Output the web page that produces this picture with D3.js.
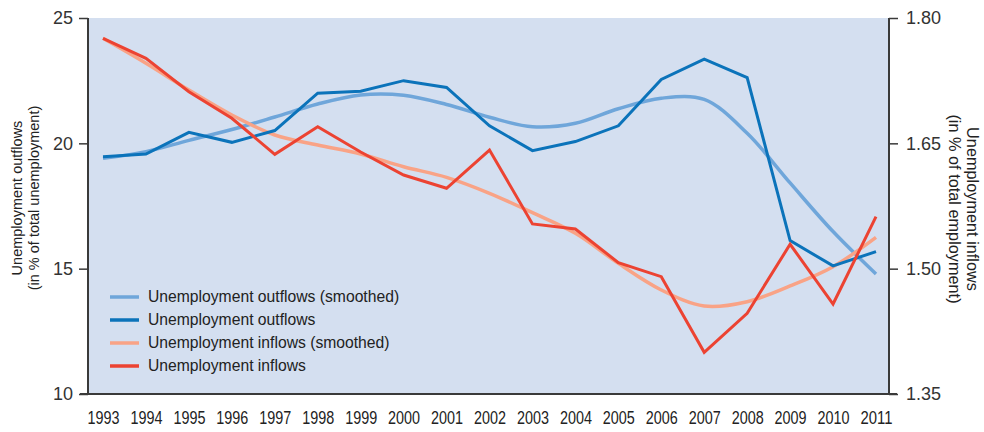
<!DOCTYPE html>
<html><head><meta charset="utf-8">
<script src="https://cdn.jsdelivr.net/npm/d3@7"></script>
<style>
html,body{margin:0;padding:0;background:#fff;}
svg{display:block;}
</style></head>
<body>
<svg id="chart" width="984" height="432"></svg>
<script>
const years = [1993,1994,1995,1996,1997,1998,1999,2000,2001,2002,2003,2004,2005,2006,2007,2008,2009,2010,2011];
const outflows = [19.46,19.57,20.44,20.04,20.51,22.0,22.08,22.5,22.23,20.7,19.71,20.07,20.7,22.55,23.36,22.62,16.12,15.11,15.68];
const outflowsSmoothed = [19.4,19.67,20.12,20.55,21.05,21.57,21.93,21.92,21.55,21.04,20.66,20.8,21.38,21.8,21.75,20.4,18.42,16.48,14.79];
const inflows = [1.7757,1.7517,1.7118,1.680,1.6369,1.6699,1.6396,1.6121,1.5962,1.642,1.5535,1.5475,1.5072,1.4904,1.3999,1.4466,1.5292,1.4577,1.5622];
const inflowsSmoothed = [1.7757,1.7458,1.7138,1.6839,1.660,1.648,1.6372,1.622,1.6093,1.5902,1.567,1.5423,1.5064,1.4745,1.4553,1.4605,1.4793,1.5024,1.5375];
const leftTicks = [10,15,20,25];
const rightTicks = [1.35,1.50,1.65,1.80];
const legendLabels = ["Unemployment outflows (smoothed)","Unemployment outflows","Unemployment inflows (smoothed)","Unemployment inflows"];
const colors = ["#6fa6da","#0b73ba","#f9a386","#ec4332"];

const svg = d3.select("#chart");
const L = 88, R = 889, T = 18, B = 394;
const x = d3.scalePoint().domain(years).range([103, 876]);
const yL = d3.scaleLinear().domain([10,25]).range([B,T]);
const yR = d3.scaleLinear().domain([1.35,1.80]).range([B,T]);
const axisColor = "#3a3a3a";
const txt = "#333";
const tf = "Liberation Sans, Arial, sans-serif";

svg.append("rect").attr("x",L).attr("y",T).attr("width",R-L).attr("height",B-T).attr("fill","#d4dff0");

// axes
const gl = svg.append("g").attr("transform",`translate(${L},0)`)
  .call(d3.axisLeft(yL).tickValues(leftTicks).tickSize(9).tickPadding(6).tickFormat(d3.format("d")));
const gr = svg.append("g").attr("transform",`translate(${R},0)`)
  .call(d3.axisRight(yR).tickValues(rightTicks).tickSize(9).tickPadding(8).tickFormat(d3.format(".2f")));
[gl,gr].forEach(g=>{
  g.select(".domain").attr("stroke",axisColor).attr("stroke-width",2).attr("d",`M0,${T}V${B}`);
  g.selectAll(".tick line").attr("stroke",axisColor).attr("stroke-width",1.5);
  g.selectAll(".tick text").attr("fill",txt).attr("font-family",tf).attr("font-size",18);
});
const gx = svg.append("g").attr("transform",`translate(0,${B})`)
  .call(d3.axisBottom(x).tickSize(0).tickPadding(17));
gx.select(".domain").attr("stroke",axisColor).attr("stroke-width",2).attr("d",`M${L-8},0H${R+8}`);
gx.selectAll(".tick text").attr("fill","#222").attr("font-family",tf).attr("font-size",18.5)
  .attr("dy","0.71em").attr("textLength",32).attr("lengthAdjust","spacingAndGlyphs");

// lines
const lineL = d3.line().x((d,i)=>x(years[i])).y(d=>yL(d));
const lineLs = d3.line().x((d,i)=>x(years[i])).y(d=>yL(d)).curve(d3.curveCatmullRom.alpha(0.5));
const lineR = d3.line().x((d,i)=>x(years[i])).y(d=>yR(d));
const lineRs = d3.line().x((d,i)=>x(years[i])).y(d=>yR(d)).curve(d3.curveCatmullRom.alpha(0.5));

svg.append("path").datum(outflowsSmoothed).attr("d",lineLs).attr("fill","none").attr("stroke",colors[0]).attr("stroke-width",3.5);
svg.append("path").datum(inflowsSmoothed).attr("d",lineRs).attr("fill","none").attr("stroke",colors[2]).attr("stroke-width",3.5);
svg.append("path").datum(outflows).attr("d",lineL).attr("fill","none").attr("stroke",colors[1]).attr("stroke-width",3).attr("stroke-linejoin","miter");
svg.append("path").datum(inflows).attr("d",lineR).attr("fill","none").attr("stroke",colors[3]).attr("stroke-width",3).attr("stroke-linejoin","miter");

// legend
const lg = svg.append("g");
legendLabels.forEach((lab,i)=>{
  const yy = 297 + i*23;
  lg.append("line").attr("x1",110).attr("x2",139).attr("y1",yy).attr("y2",yy).attr("stroke",colors[i]).attr("stroke-width",3.5);
  lg.append("text").attr("x",148).attr("y",yy).attr("dy","0.35em").text(lab)
    .attr("font-family",tf).attr("font-size",15.7).attr("fill","#222");
});

// axis titles
const lt = svg.append("text").attr("transform","translate(22,198) rotate(-90)").attr("text-anchor","middle")
  .attr("font-family",tf).attr("font-size",14.5).attr("fill","#222");
lt.append("tspan").attr("x",0).attr("dy",0).text("Unemployment outflows");
lt.append("tspan").attr("x",0).attr("dy",17).text("(in % of total unemployment)");
const rt = svg.append("text").attr("transform","translate(967,209) rotate(90)").attr("text-anchor","middle")
  .attr("font-family",tf).attr("font-size",16.3).attr("fill","#222");
rt.append("tspan").attr("x",0).attr("dy",0).text("Unemployment inflows");
rt.append("tspan").attr("x",0).attr("dy",18).text("(in % of total employment)");
</script>
</body></html>
